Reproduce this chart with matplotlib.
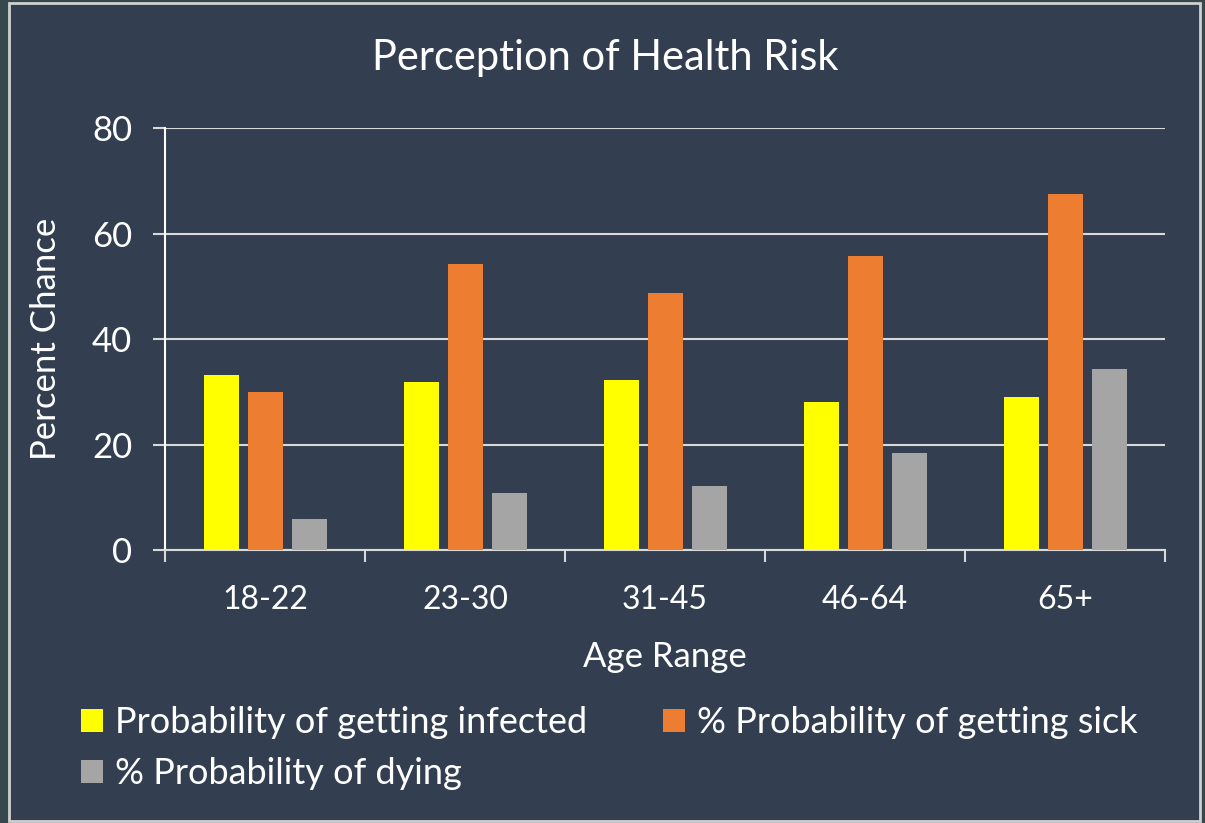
import numpy as np
import matplotlib
matplotlib.use('Agg')
import matplotlib.pyplot as plt
from matplotlib.patches import Rectangle

plt.rcParams['font.family'] = ['Lato', 'DejaVu Sans']

# data
ages = ['18-22', '23-30', '31-45', '46-64', '65+']
infected = [33.2, 31.8, 32.2, 28.1, 29.0]
sick = [30.0, 54.2, 48.7, 55.7, 67.5]
dying = [5.9, 10.8, 12.1, 18.4, 34.3]

bg = '#333f50'
grid_c = '#d9d9d9'

fig = plt.figure(figsize=(12.05, 8.23), dpi=100)
fig.patch.set_facecolor('#36474d')
fig.add_artist(Rectangle((9 / 1205, 1 - 821 / 823), 1191 / 1205, 818 / 823,
                         transform=fig.transFigure, facecolor=bg,
                         edgecolor='#d0d0d0', linewidth=2, zorder=0))

ax = fig.add_axes([165 / 1205, 1 - 550 / 823, 1000 / 1205, 422 / 823])
ax.set_facecolor('none')

x = np.arange(len(ages))
w = 0.175
step = 0.22
b1 = ax.bar(x - step, infected, w, color='#ffff00', zorder=3)
b2 = ax.bar(x, sick, w, color='#ed7d31', zorder=3)
b3 = ax.bar(x + step, dying, w, color='#a5a5a5', zorder=3)

ax.set_xlim(-0.5, len(ages) - 0.5)
ax.set_ylim(0, 80)
ax.set_yticks([0, 20, 40, 60, 80])
ax.yaxis.grid(True, color=grid_c, linewidth=1.5, zorder=0)
ax.set_axisbelow(True)

for s in ['top', 'right']:
    ax.spines[s].set_visible(False)
ax.spines['left'].set_color('white')
ax.spines['left'].set_linewidth(1.5)
ax.spines['bottom'].set_color(grid_c)
ax.spines['bottom'].set_linewidth(1.5)

# category labels centred, tick marks on the category borders
ax.set_xticks(x)
ax.set_xticklabels(ages)
ax.tick_params(axis='x', length=0, pad=25, labelsize=23, colors='white')
ax.set_xticks(np.arange(len(ages) + 1) - 0.5, minor=True)
ax.tick_params(axis='x', which='minor', length=8.5, width=1.5, color=grid_c)
ax.tick_params(axis='y', length=8.5, width=1.5, color=grid_c, labelsize=25,
               labelcolor='white', pad=15)

ax.set_xlabel('Age Range', color='white', fontsize=25, labelpad=19)
ax.set_ylabel('Percent Chance', color='white', fontsize=25, labelpad=22)

fig.text(605 / 1205, 1 - 58 / 823, 'Perception of Health Risk', color='white',
         fontsize=30, ha='center', va='center')

leg = fig.legend([b1, b3, b2],
                 ['Probability of getting infected', '% Probability of dying',
                  '% Probability of getting sick'],
                 ncol=2, loc='upper left', bbox_to_anchor=(81 / 1205, 1 - 706 / 823),
                 frameon=False, fontsize=26, labelcolor='white',
                 handlelength=0.61, handleheight=0.61, handletextpad=0.33,
                 columnspacing=2.1, labelspacing=0.5, borderaxespad=0,
                 borderpad=0)

fig.savefig('out.png', dpi=100, facecolor=fig.get_facecolor())
